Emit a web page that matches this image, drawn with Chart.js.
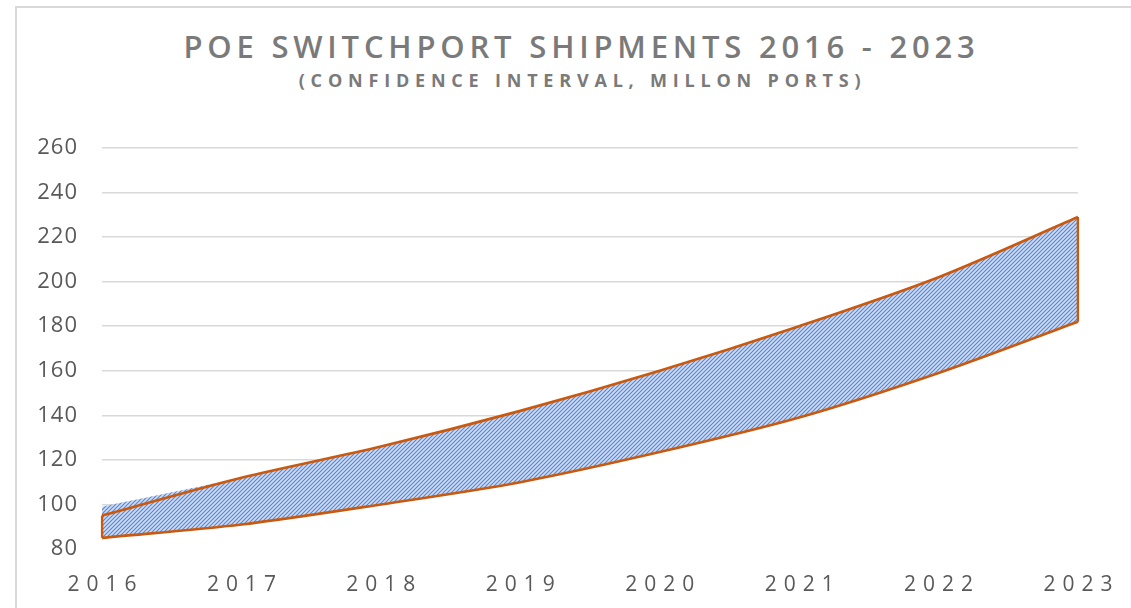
<!DOCTYPE html>
<html>
<head>
<meta charset="utf-8">
<script src="https://cdn.jsdelivr.net/npm/chart.js@4/dist/chart.umd.min.js"></script>
<style>
  html, body { margin: 0; padding: 0; background: #fff; }
  #wrap { position: relative; width: 1131px; height: 608px; overflow: hidden; }
  #frame { position: absolute; left: 15px; top: 6px; width: 1200px; height: 700px;
           border-left: 2px solid #d9d9d9; border-top: 2px solid #d9d9d9; }
  #title { position: absolute; left: 0; width: 1163px; top: 31px; text-align: center;
           font-family: "Open Sans", sans-serif; font-weight: 600; font-size: 31px;
           letter-spacing: 4.8px; color: #7a7a7a; line-height: 1; white-space: nowrap; }
  #subtitle { position: absolute; left: 0; width: 1165px; top: 71px; text-align: center;
           font-family: "Open Sans", sans-serif; font-weight: 700; font-size: 18px;
           letter-spacing: 5.8px; color: #7a7a7a; line-height: 1; white-space: nowrap; }
  canvas { position: absolute; left: 0; top: 0; }
</style>
</head>
<body>
<div id="wrap">
  <div id="frame"></div>
  <div id="title">POE SWITCHPORT SHIPMENTS 2016 - 2023</div>
  <div id="subtitle">(CONFIDENCE INTERVAL, MILLON PORTS)</div>
  <canvas id="poeChart" width="1131" height="608"></canvas>
</div>
<script>
const years = ["2016", "2017", "2018", "2019", "2020", "2021", "2022", "2023"];
const upperBound = [95, 112, 126, 142, 160, 180, 202, 229];
const upperFillEdge = [99, 112, 126, 142, 160, 180, 202, 229];
const lowerBound = [85, 91, 100, 110, 123.5, 139, 159, 182];
const yTicks = [80, 100, 120, 140, 160, 180, 200, 220, 240, 260];

const orange = "#c8590f";

// diagonal hatch used for the interval band
function makeHatch() {
    const c = document.createElement("canvas");
    c.width = 4;
    c.height = 4;
    const g = c.getContext("2d");
    g.fillStyle = "#cddcf6";
    g.fillRect(0, 0, 4, 4);
    g.strokeStyle = "#5a82d2";
    g.lineWidth = 1.1;
    g.beginPath();
    g.moveTo(-1, 5); g.lineTo(5, -1);
    g.moveTo(-1, 1); g.lineTo(1, -1);
    g.moveTo(3, 5); g.lineTo(5, 3);
    g.stroke();
    return g.createPattern(c, "repeat");
}

// y labels get a little tracking, x labels (drawn after the datasets) get more
const spacedLabels = {
    id: "spacedLabels",
    beforeDraw(chart) { chart.ctx.letterSpacing = "1px"; },
    afterDatasetsDraw(chart) { chart.ctx.letterSpacing = "7px"; },
    afterDraw(chart) { chart.ctx.letterSpacing = "0px"; }
};

const ctx = document.getElementById("poeChart").getContext("2d");

new Chart(ctx, {
    type: "line",
    data: {
        labels: years,
        datasets: [
            {
                label: "lower",
                data: lowerBound,
                borderWidth: 0,
                pointRadius: 0,
                backgroundColor: "#ffffff",
                fill: "start",
                tension: 0.3
            },
            {
                label: "band",
                data: upperFillEdge,
                borderWidth: 0,
                pointRadius: 0,
                backgroundColor: makeHatch(),
                fill: 0,
                tension: 0.3
            },
            {
                label: "upper line",
                data: upperBound,
                borderColor: orange,
                borderWidth: 2.6,
                pointRadius: 0,
                fill: false,
                tension: 0.3
            },
            {
                label: "lower line",
                data: lowerBound,
                borderColor: orange,
                borderWidth: 2.6,
                pointRadius: 0,
                fill: false,
                tension: 0.3
            },
            {
                label: "left edge",
                data: [{ x: years[0], y: upperBound[0] }, { x: years[0], y: lowerBound[0] }],
                borderColor: orange,
                borderWidth: 2.6,
                pointRadius: 0,
                fill: false
            },
            {
                label: "right edge",
                data: [{ x: years[7], y: upperBound[7] }, { x: years[7], y: lowerBound[7] }],
                borderColor: orange,
                borderWidth: 2.6,
                pointRadius: 0,
                fill: false
            }
        ]
    },
    options: {
        responsive: false,
        animation: false,
        layout: { padding: { top: 148, right: 53, left: 0, bottom: 0 } },
        plugins: {
            legend: { display: false },
            tooltip: { enabled: false },
            filler: { drawTime: "beforeDatasetsDraw" }
        },
        scales: {
            x: {
                type: "category",
                offset: false,
                grid: { display: false },
                border: { display: false },
                ticks: {
                    z: 1,
                    color: "#595959",
                    font: { family: "Open Sans", size: 21 },
                    padding: 15,
                    labelOffset: 3.5,
                    maxRotation: 0,
                    autoSkip: false
                },
                afterFit(scale) { scale.height = 59; }
            },
            y: {
                min: 80,
                max: 260,
                afterBuildTicks(scale) { scale.ticks = yTicks.map(v => ({ value: v })); },
                grid: {
                    color: c => (c.tick && c.tick.value === 80 ? "rgba(0,0,0,0)" : "#d9d9d9"),
                    lineWidth: 1.5,
                    drawTicks: false
                },
                border: { display: false },
                ticks: {
                    color: "#595959",
                    font: { family: "Open Sans", size: 22 },
                    padding: 24
                },
                afterFit(scale) { scale.width = 102; }
            }
        }
    },
    plugins: [spacedLabels]
});
</script>
</body>
</html>
